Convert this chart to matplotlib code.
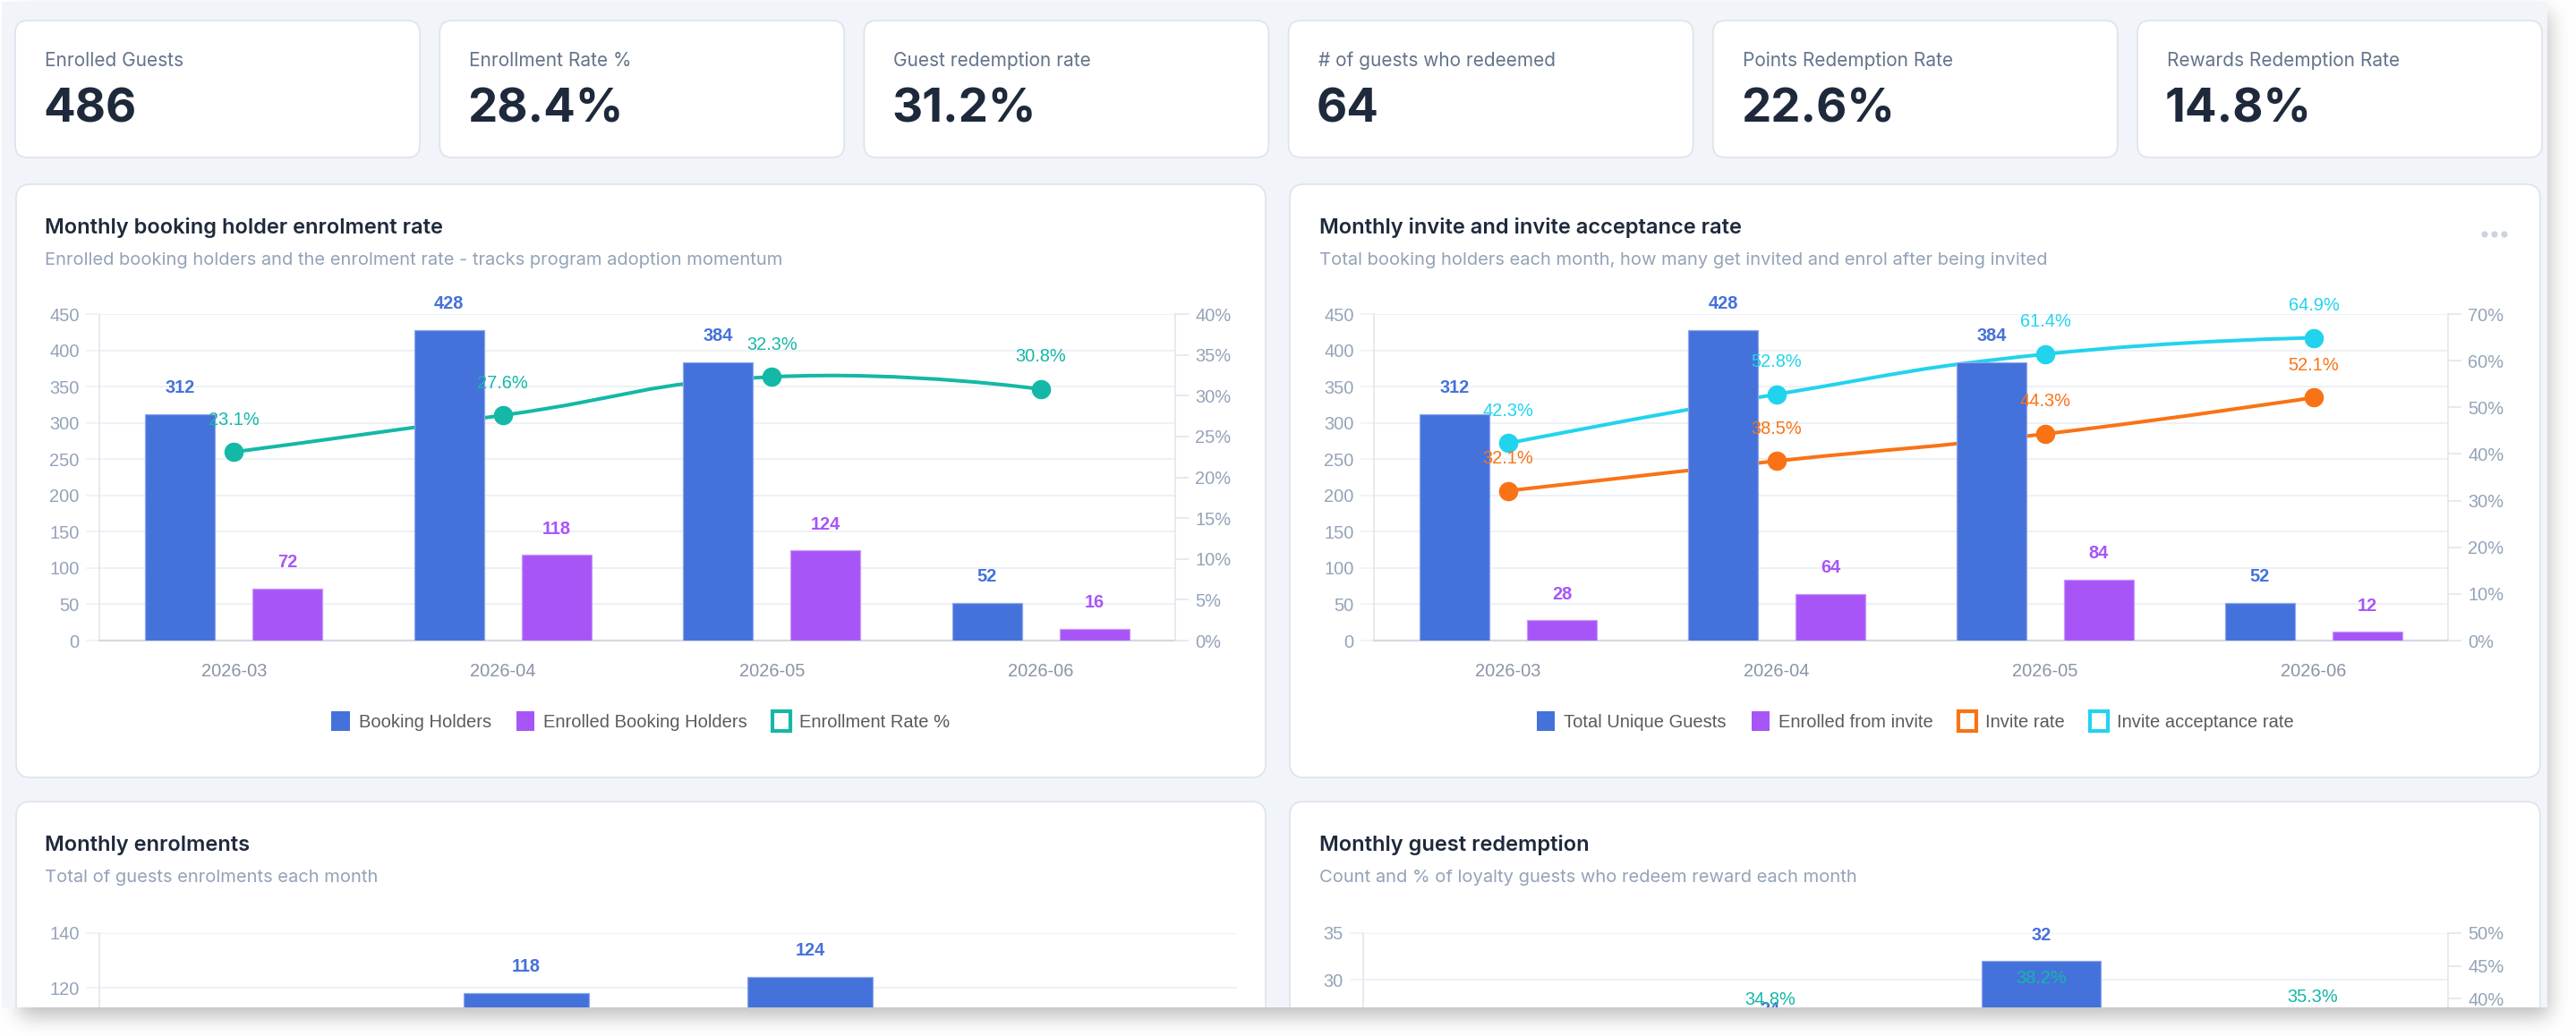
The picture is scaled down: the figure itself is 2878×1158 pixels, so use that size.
import math
import numpy as np
import matplotlib
matplotlib.use("Agg")
import matplotlib.pyplot as plt
from matplotlib.patches import FancyBboxPatch, Patch, Circle, PathPatch
from matplotlib.path import Path
from matplotlib.transforms import IdentityTransform

W, H = 2878, 1158

# ---- data ----
kpi_labels = ["Enrolled Guests", "Enrollment Rate %", "Guest redemption rate",
              "# of guests who redeemed", "Points Redemption Rate", "Rewards Redemption Rate"]
kpi_values = ["486", "28.4%", "31.2%", "64", "22.6%", "14.8%"]

months = ["2026-03", "2026-04", "2026-05", "2026-06"]

booking_holders = [312, 428, 384, 52]
enrolled_holders = [72, 118, 124, 16]
enrolment_rate = [23.1, 27.6, 32.3, 30.8]

unique_guests = [312, 428, 384, 52]
enrolled_from_invite = [28, 64, 84, 12]
invite_rate = [32.1, 38.5, 44.3, 52.1]
acceptance_rate = [42.3, 52.8, 61.4, 64.9]

monthly_enrolments = [72, 118, 124, 16]

guests_redeemed = [6, 24, 32, 2]
redemption_rate = [27.3, 34.8, 38.2, 35.3]

BLUE = "#4571DB"
PURPLE = "#A855F7"
TEAL = "#14B8A6"
ORANGE = "#F97316"
CYAN = "#22D3EE"
EDGE = {BLUE: "#8EA8EC", PURPLE: "#C79BFA"}
TICK = "#94A3B8"
GRID = "#EEF1F6"
AXIS = "#E2E6EC"

plt.rcParams["font.family"] = ["Liberation Sans", "DejaVu Sans"]
UI = ["Inter", "DejaVu Sans"]

fig = plt.figure(figsize=(W / 100, H / 100), dpi=100)
fig.patch.set_facecolor("white")


def fx(x):
    return x / W


def fy(y):
    return 1 - y / H


def box(x0, y0, x1, y1, r, fc, ec, lw=1.2, z=-2):
    p = FancyBboxPatch((x0, H - y1), x1 - x0, y1 - y0,
                       boxstyle=f"round,pad=0,rounding_size={r}",
                       fc=fc, ec=ec, lw=lw, transform=IdentityTransform(), zorder=z)
    fig.add_artist(p)


def add_ax(x0, y0, x1, y1, z=1):
    ax = fig.add_axes([x0 / W, 1 - y1 / H, (x1 - x0) / W, (y1 - y0) / H], zorder=z)
    ax.patch.set_visible(False)
    return ax


def style(ax, ymax, step):
    ax.set_xlim(-0.5, 3.5)
    ax.set_ylim(0, ymax)
    ax.set_yticks(np.arange(0, ymax + 1, step))
    ax.grid(axis="y", color=GRID, lw=1.5)
    ax.set_axisbelow(True)
    for s in ["top", "right"]:
        ax.spines[s].set_visible(False)
    ax.spines["left"].set_color(AXIS)
    ax.spines["left"].set_linewidth(1.2)
    ax.spines["bottom"].set_color("#D5D9E0")
    ax.spines["bottom"].set_linewidth(1.6)
    ax.tick_params(axis="y", length=11, width=1.2, color=GRID, labelsize=14.4,
                   labelcolor=TICK, pad=5)
    ax.tick_params(axis="x", length=0, labelsize=14.4, labelcolor="#8A94A6", pad=18)
    ax.set_xticks(range(len(months)))
    ax.set_xticklabels(months)


def right_axis(ax, ymax, step):
    ax2 = ax.twinx()
    ax2.set_zorder(ax.get_zorder() + 1)
    ax2.patch.set_visible(False)
    ax2.set_ylim(0, ymax)
    ticks = np.arange(0, ymax + 1, step)
    ax2.set_yticks(ticks)
    ax2.set_yticklabels([f"{int(t)}%" for t in ticks])
    for s in ["top", "left", "bottom"]:
        ax2.spines[s].set_visible(False)
    ax2.spines["right"].set_color(AXIS)
    ax2.spines["right"].set_linewidth(1.2)
    ax2.tick_params(axis="y", length=11, width=1.2, color=AXIS, labelsize=14.4,
                    labelcolor=TICK, pad=5)
    return ax2


def top_layer(ax):
    # bars sit above the lines, labels above everything
    axb = fig.add_axes(ax.get_position(), zorder=ax.get_zorder() + 5)
    axb.set_xlim(ax.get_xlim())
    axb.set_ylim(ax.get_ylim())
    axb.set_axis_off()
    return axb


def bars(ax, offset, vals, width, color):
    xs = np.arange(len(vals)) + offset
    ax.bar(xs, vals, width=width, color=color, ec=EDGE[color], lw=0.9, zorder=2)
    for x, v in zip(xs, vals):
        ax.annotate(str(v), (x, v), xytext=(0, 21), textcoords="offset points",
                    ha="center", va="center", fontsize=14.4, fontweight="bold",
                    color=color, zorder=6, annotation_clip=False)


def smooth_line(ax, vals, color, label_ax, s=0.5):
    xs = np.arange(len(vals))
    pts = ax.transData.transform(np.column_stack([xs, vals]))
    n = len(pts)
    c_out, c_in = [], []
    for i in range(n):
        if i == 0 or i == n - 1:
            c_out.append(pts[i])
            c_in.append(pts[i])
        else:
            v = pts[i + 1] - pts[i - 1]
            d0 = np.hypot(*(pts[i] - pts[i - 1]))
            d1 = np.hypot(*(pts[i + 1] - pts[i]))
            r = d1 / (d0 + d1)
            c_out.append(pts[i] + v * s * r)
            c_in.append(pts[i] - v * s * (1 - r))
    verts = [pts[0]]
    codes = [Path.MOVETO]
    for i in range(n - 1):
        verts += [c_out[i], c_in[i + 1], pts[i + 1]]
        codes += [Path.CURVE4] * 3
    path = Path(ax.transData.inverted().transform(np.array(verts)), codes)
    ax.add_patch(PathPatch(path, fill=False, ec=color, lw=2.9, capstyle="round",
                           joinstyle="round", zorder=3))
    ax.plot(xs, vals, "o", ms=14.5, color=color, zorder=4)
    for x, v in zip(xs, vals):
        label_ax.annotate(f"{v}%", (x, v), xycoords=ax.transData, xytext=(0, 26),
                          textcoords="offset points", ha="center", va="center",
                          fontsize=14.4, color=color, zorder=7, annotation_clip=False)


def panel_text(x, y, title, sub):
    fig.text(fx(x), fy(y), title, fontsize=17, fontweight="semibold", color="#1E293B",
             va="center", ha="left", family=UI)
    fig.text(fx(x), fy(y + 36), sub, fontsize=14.5, color="#94A3B8",
             va="center", ha="left", family=UI)


LEG = dict(loc="center", frameon=False, fontsize=14.5, handlelength=1.0, handleheight=1.3,
           handletextpad=0.5, columnspacing=1.4, labelcolor="#5B5B5B")

# ---- page background ----
box(2, 2, 2846, 1126, 0, "#F1F4F9", "none", lw=0, z=-3)

# KPI cards
for i, (lab, val) in enumerate(zip(kpi_labels, kpi_values)):
    x0 = 17 + i * 474.2
    box(x0, 23, x0 + 452, 176, 14, "white", "#DDE3EC")
    fig.text(fx(x0 + 33), fy(68), lab, fontsize=15, color="#64748B", va="center",
             family=UI)
    fig.text(fx(x0 + 31), fy(123), val, fontsize=38, fontweight="bold", color="#1E293B",
             va="center", family=UI)

# chart panels
box(18, 206, 1414, 869, 16, "white", "#DDE3EC")
box(1441, 206, 2838, 869, 16, "white", "#DDE3EC")
box(18, 896, 1414, 1400, 16, "white", "#DDE3EC")
box(1441, 896, 2838, 1400, 16, "white", "#DDE3EC")

# ---- panel 1 ----
panel_text(50, 255, "Monthly booking holder enrolment rate",
           "Enrolled booking holders and the enrolment rate - tracks program adoption momentum")
ax1 = add_ax(111, 351, 1313, 716)
style(ax1, 450, 50)
ax1r = right_axis(ax1, 40, 5)
ax1b = top_layer(ax1)
smooth_line(ax1r, enrolment_rate, TEAL, ax1b)
bars(ax1b, -0.2, booking_holders, 0.26, BLUE)
bars(ax1b, 0.2, enrolled_holders, 0.26, PURPLE)

h1 = [Patch(fc=BLUE), Patch(fc=PURPLE), Patch(fc="white", ec=TEAL, lw=3)]
fig.legend(h1, ["Booking Holders", "Enrolled Booking Holders", "Enrollment Rate %"],
           bbox_to_anchor=(fx(716), fy(806)), ncol=3, **LEG)

# ---- panel 2 ----
panel_text(1474, 255, "Monthly invite and invite acceptance rate",
           "Total booking holders each month, how many get invited and enrol after being invited")
for dx in (-11, 0, 11):
    fig.add_artist(Circle((2787 + dx, H - 262), 3.6, fc="#CBD3DE", ec="none",
                          transform=IdentityTransform()))
ax2 = add_ax(1535, 351, 2735, 716)
style(ax2, 450, 50)
ax2r = right_axis(ax2, 70, 10)
ax2b = top_layer(ax2)
smooth_line(ax2r, invite_rate, ORANGE, ax2b)
smooth_line(ax2r, acceptance_rate, CYAN, ax2b)
bars(ax2b, -0.2, unique_guests, 0.26, BLUE)
bars(ax2b, 0.2, enrolled_from_invite, 0.26, PURPLE)

h2 = [Patch(fc=BLUE), Patch(fc=PURPLE), Patch(fc="white", ec=ORANGE, lw=3),
      Patch(fc="white", ec=CYAN, lw=3)]
fig.legend(h2, ["Total Unique Guests", "Enrolled from invite", "Invite rate",
                "Invite acceptance rate"],
           bbox_to_anchor=(fx(2140), fy(806)), ncol=4, **LEG)

# ---- panel 3 ----
panel_text(50, 945, "Monthly enrolments", "Total of guests enrolments each month")
ax3 = add_ax(111, 1043, 1382, 1470)
style(ax3, 140, 20)
bars(ax3, 0, monthly_enrolments, 0.44, BLUE)

# ---- panel 4 ----
panel_text(1474, 945, "Monthly guest redemption",
           "Count and % of loyalty guests who redeem reward each month")
ax4 = add_ax(1523, 1043, 2735, 1408)
style(ax4, 35, 5)
ax4r = right_axis(ax4, 50, 5)
ax4b = top_layer(ax4)
smooth_line(ax4r, redemption_rate, TEAL, ax4b)
bars(ax4b, 0, guests_redeemed, 0.44, BLUE)


# ---- screenshot frame: white margin with soft shadow ----
def band(c, lo, hi, sig):
    return np.array([0.5 * (math.erf((t - lo) / (sig * 1.414)) - math.erf((t - hi) / (sig * 1.414)))
                     for t in c])


xs = np.arange(W) + 0.5
ys = np.arange(H) + 0.5
sh = 0.26 * np.outer(band(ys, 14, 1136, 11), band(xs, 22, 2848, 11))
img = np.ones((H, W, 4))
img[..., :3] = (1 - sh)[..., None]
inside = (ys[:, None] >= 2) & (ys[:, None] <= 1126) & (xs[None, :] >= 2) & (xs[None, :] <= 2846)
img[..., 3] = np.where(inside, 0.0, 1.0)
axs = fig.add_axes([0, 0, 1, 1], zorder=50)
axs.imshow(img, extent=(0, W, H, 0), aspect="auto", interpolation="nearest")
axs.set_axis_off()

fig.savefig("out.png", dpi=100)
